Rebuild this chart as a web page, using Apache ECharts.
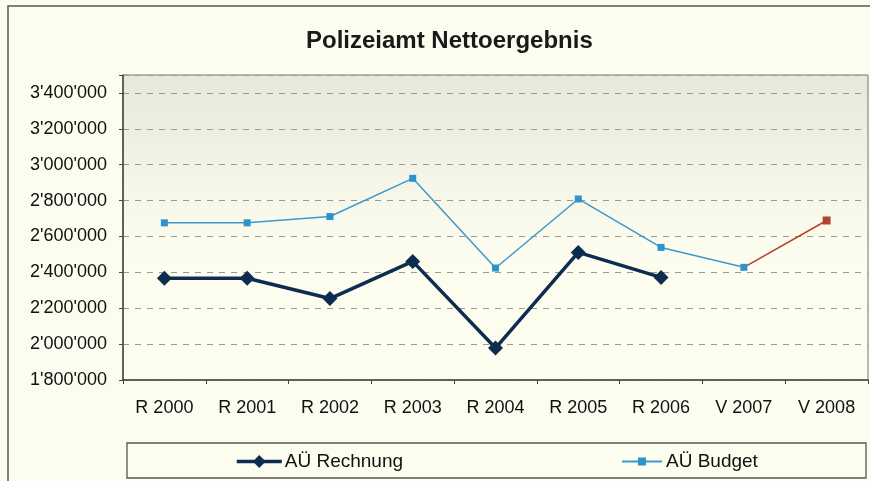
<!DOCTYPE html>
<html>
<head>
<meta charset="utf-8">
<script src="https://cdn.jsdelivr.net/npm/echarts@6/dist/echarts.min.js"></script>
<style>
html,body{margin:0;padding:0;background:#FCFCEF;}
#chart{width:870px;height:481px;}
</style>
</head>
<body>
<div id="chart"></div>
<script>
const categories = ['R 2000','R 2001','R 2002','R 2003','R 2004','R 2005','R 2006','V 2007','V 2008'];
const rechnung = [2367000, 2367000, 2254000, 2461000, 1978000, 2511000, 2372000, null, null];
const budget = [2676000, 2676000, 2711000, 2924000, 2424000, 2809000, 2539000, 2428000, null];
const budgetForecast = [null, null, null, null, null, null, null, 2428000, 2689000];
const yTicks = [1800000, 2000000, 2200000, 2400000, 2600000, 2800000, 3000000, 3200000, 3400000];

const fmt = v => String(v).replace(/\B(?=(\d{3})+(?!\d))/g, "'");
const FONT = '"Liberation Sans", Arial, sans-serif';

const chart = echarts.init(document.getElementById('chart'));
chart.setOption({
  backgroundColor: '#FCFCEF',
  animation: false,
  title: {
    text: 'Polizeiamt Nettoergebnis',
    left: 301, top: 24,
    textStyle: {fontFamily: FONT, fontSize: 24, fontWeight: 'bold', color: '#1a1a1a'}
  },
  graphic: [
    {type: 'rect', shape: {x: 8, y: 6, width: 900, height: 520},
     style: {fill: 'none', stroke: '#555', lineWidth: 1.5}, silent: true},
    {type: 'rect', shape: {x: 127, y: 443, width: 739, height: 35},
     style: {fill: 'none', stroke: '#555', lineWidth: 1.3}, silent: true}
  ],
  grid: {
    left: 123, right: 2, top: 75, bottom: 101,
    show: true,
    borderColor: '#777', borderWidth: 1,
    backgroundColor: new echarts.graphic.LinearGradient(0, 0, 0, 1, [
      {offset: 0, color: '#E6E8DB'},
      {offset: 0.35, color: '#F5F6E8'},
      {offset: 0.6, color: '#FCFCEF'},
      {offset: 1, color: '#FCFCEF'}
    ])
  },
  legend: [
    {data: ['AÜ Rechnung'], left: 235, top: 452, padding: 0, itemWidth: 45, itemHeight: 16, itemGap: 4,
     lineStyle: {width: 3.5},
     textStyle: {fontFamily: FONT, fontSize: 19, color: '#111', padding: [0, 0, 0, -2]}},
    {data: ['AÜ Budget'], left: 621, top: 452, padding: 0, itemWidth: 40, itemHeight: 10, itemGap: 4,
     textStyle: {fontFamily: FONT, fontSize: 19, color: '#111', padding: [0, 0, 0, -1]}}
  ],
  xAxis: {
    type: 'category',
    data: categories,
    boundaryGap: true,
    axisLine: {lineStyle: {color: '#444', width: 1.5}},
    axisTick: {show: true, length: 4, lineStyle: {color: '#444'}},
    axisLabel: {fontFamily: FONT, fontSize: 18, color: '#111', margin: 19}
  },
  yAxis: {
    type: 'value',
    min: 1800000, max: 3500000, interval: 200000,
    axisLine: {show: true, lineStyle: {color: '#444', width: 1.5}},
    axisTick: {show: true, length: 4, lineStyle: {color: '#444'}},
    axisLabel: {fontFamily: FONT, fontSize: 18, color: '#111', margin: 16,
      formatter: v => yTicks.indexOf(v) >= 0 ? fmt(v) : ''},
    splitLine: {show: true, lineStyle: {color: '#9a9a92', type: [6, 6], width: 1}}
  },
  series: [
    {name: 'AÜ Rechnung', type: 'line', data: rechnung,
     symbol: 'diamond', symbolSize: 15, showAllSymbol: true,
     itemStyle: {color: '#0E2C50'},
     lineStyle: {color: '#0E2C50', width: 3.5}, z: 4},
    {name: 'AÜ Budget', type: 'line', data: budget,
     symbol: 'rect', symbolSize: 7, showAllSymbol: true,
     itemStyle: {color: '#2E92CC'},
     lineStyle: {color: '#3A9ACF', width: 1.5}, z: 3},
    {name: 'AÜ Budget V', type: 'line',
     data: budgetForecast.map((v, i) => (i === 7 ? {value: v, symbol: 'none'} : v)),
     symbol: 'rect', symbolSize: 8, showAllSymbol: true,
     itemStyle: {color: '#B2432C'},
     lineStyle: {color: '#B2432C', width: 1.5}, z: 2}
  ]
});
</script>
</body>
</html>
